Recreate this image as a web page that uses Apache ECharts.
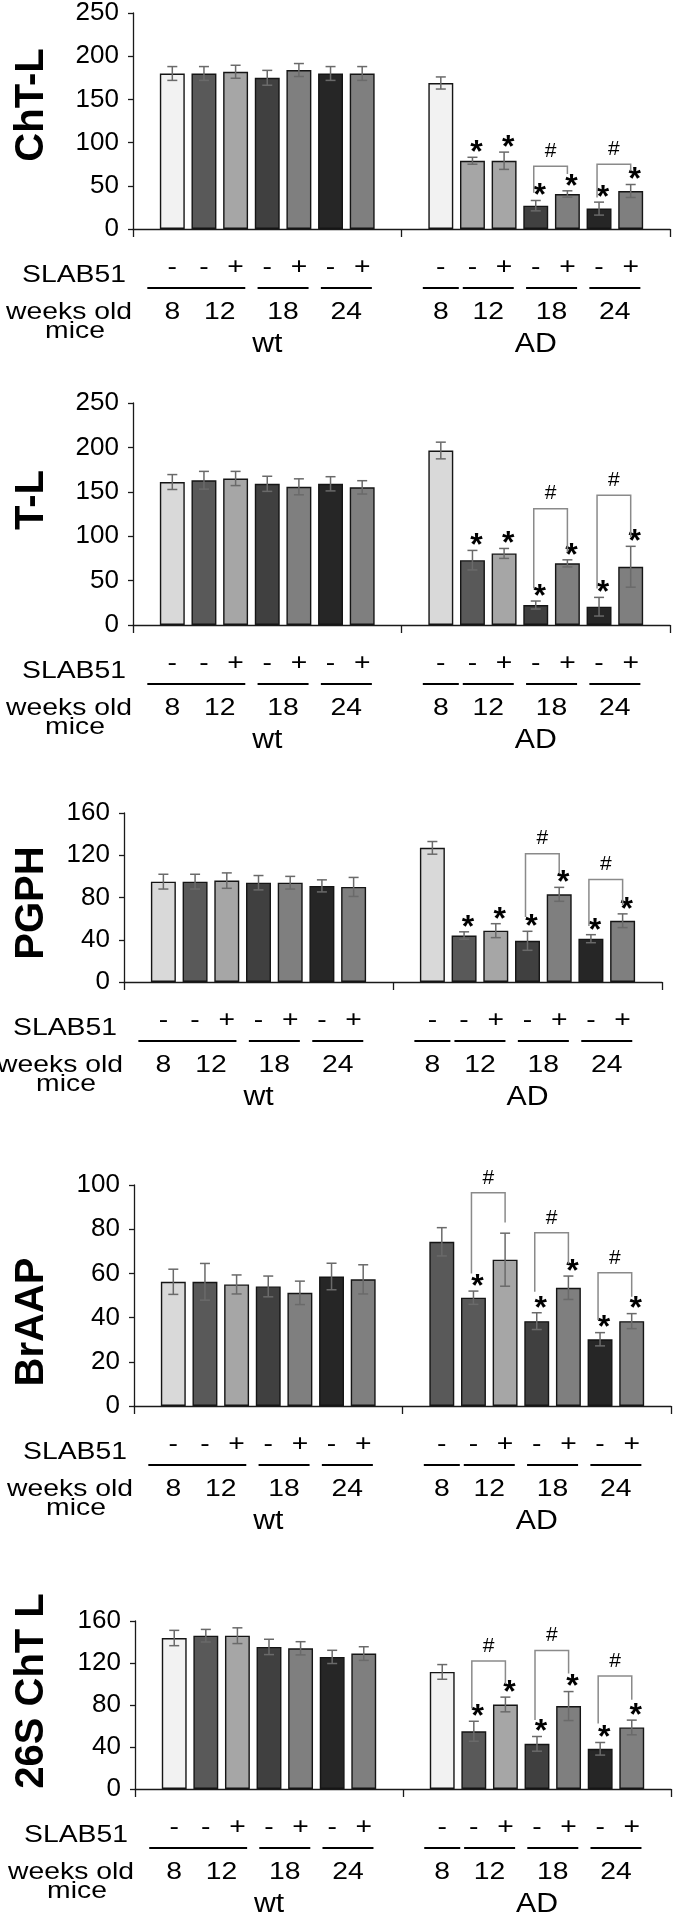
<!DOCTYPE html>
<html><head><meta charset="utf-8">
<script src="https://cdn.jsdelivr.net/npm/echarts@6/dist/echarts.min.js"></script>
<style>html,body{margin:0;padding:0;background:#fff}#c{width:675px;height:1922px}</style>
</head><body><div id="c"></div><script>
// ---------- data ----------
const categories = ['wt', 'AD'];
const barLabels = ['8 -', '12 -', '12 +', '18 -', '18 +', '24 -', '24 +'];
const slabSigns = ['-', '-', '+', '-', '+', '-', '+'];
const weekLabels = ['8', '12', '18', '24'];
const panelTitles = ['ChT-L', 'T-L', 'PGPH', 'BrAAP', '26S ChT L'];
const yMax = [250, 250, 160, 100, 160];
const yStep = [50, 50, 40, 20, 40];

// ChT-L
const chtlWt = [180, 180, 182, 175, 184, 180, 180];
const chtlWtErr = [8, 8, 7.5, 8.6, 7.5, 8, 8];
const chtlAD = [169, 79, 79, 27, 40.5, 23.6, 44];
const chtlADErr = [7, 4, 10, 6, 3.7, 7.5, 7.5];
const chtlStars = [1, 2, 3, 4, 5, 6];
const chtlBrackets = [[3, 4, 42, 72.6, 63.6], [5, 6, 36.6, 74.8, 67.4]];
// T-L
const tlWt = [161, 163, 165, 159, 155.6, 159, 155];
const tlWtErr = [8.4, 10, 8, 8.5, 9, 8, 7.5];
const tlAD = [196.5, 73, 80.6, 22.5, 69.4, 20.6, 65.6];
const tlADErr = [9.4, 11, 5.6, 4.5, 4, 10.5, 23];
const tlStars = [1, 2, 3, 4, 5, 6];
const tlBrackets = [[3, 4, 41, 131, 82], [5, 6, 41, 146, 99]];
// PGPH
const pgphWt = [95, 95, 96, 94, 94, 91, 90];
const pgphWtErr = [7, 7, 7.3, 6.8, 6, 5.7, 9];
const pgphAD = [127, 44, 48.6, 39, 83, 41, 58];
const pgphADErr = [6, 3.5, 6.6, 9, 6.6, 3.8, 6.5];
const pgphStars = [1, 2, 3, 4, 5, 6];
const pgphBrackets = [[3, 4, 61.5, 121.5, 103], [5, 6, 53, 97, 73]];
// BrAAP
const braapWt = [56.2, 56.2, 55, 54.1, 51.2, 58.6, 57.3];
const braapWtErr = [5.7, 8.3, 4.3, 4.7, 5.3, 6, 6.6];
const braapAD = [74.3, 49, 66.2, 38.4, 53.5, 30.2, 38.4];
const braapADErr = [6.4, 3, 12, 3.8, 5.3, 3, 3.4];
const braapStars = [1, 3, 4, 5, 6];
const braapBrackets = [[1, 2, 60, 96.5, 83], [3, 4, 51.7, 78.4, 64.4], [5, 6, 38.9, 60.3, 49.4]];
// 26S ChT L
const s26Wt = [143.8, 146, 146, 135.3, 134, 125.8, 129];
const s26WtErr = [7.3, 6, 7.5, 7.3, 6.3, 6.3, 6.5];
const s26AD = [111.5, 55, 80.5, 43, 79, 38.3, 58.6];
const s26ADErr = [7, 9.5, 7, 7, 13.8, 6, 7];
const s26Stars = [1, 2, 3, 4, 5, 6];
const s26Brackets = [[1, 2, 76.7, 122, 100], [3, 4, 65.6, 132, 110], [5, 6, 62.4, 107.7, 85]];

// ---------- styles / layout ----------
const FONT = '"Liberation Sans", Arial, Helvetica, sans-serif';
const CAT_GAP = 0.20, BAR_GAP = 0.27;
const grids = [
  {left: 133, top: 7, width: 537, height: 222},
  {left: 133, top: 403, width: 537, height: 222},
  {left: 124, top: 813, width: 538, height: 169},
  {left: 134, top: 1185, width: 537, height: 221},
  {left: 135, top: 1621, width: 536, height: 168}
];
const titleCenterY = [105, 500, 903, 1322, 1691];
const G = ['#595959', '#a6a6a6', '#404040', '#7f7f7f', '#262626', '#7f7f7f'];
const wtColors = [
  ['#f2f2f2'].concat(G), ['#d9d9d9'].concat(G), ['#d9d9d9'].concat(G),
  ['#d9d9d9'].concat(G), ['#f2f2f2'].concat(G)
];
const adColors = [
  ['#f2f2f2', '#a6a6a6', '#a6a6a6', '#404040', '#7f7f7f', '#262626', '#7f7f7f'],
  ['#d9d9d9'].concat(G), ['#d9d9d9'].concat(G),
  ['#595959'].concat(G), ['#f2f2f2'].concat(G)
];

const panels = [
  {wt: chtlWt, wtErr: chtlWtErr, ad: chtlAD, adErr: chtlADErr, stars: chtlStars, brackets: chtlBrackets},
  {wt: tlWt, wtErr: tlWtErr, ad: tlAD, adErr: tlADErr, stars: tlStars, brackets: tlBrackets},
  {wt: pgphWt, wtErr: pgphWtErr, ad: pgphAD, adErr: pgphADErr, stars: pgphStars, brackets: pgphBrackets},
  {wt: braapWt, wtErr: braapWtErr, ad: braapAD, adErr: braapADErr, stars: braapStars, brackets: braapBrackets},
  {wt: s26Wt, wtErr: s26WtErr, ad: s26AD, adErr: s26ADErr, stars: s26Stars, brackets: s26Brackets}
];

function offsetInBand(band, idx) {
  const avail = band * (1 - CAT_GAP);
  const bw = avail / (7 + 6 * BAR_GAP);
  return -avail / 2 + bw / 2 + idx * bw * (1 + BAR_GAP);
}
function barCenter(api, cat, idx) {
  const c = api.coord([cat, 0]);
  const band = api.size([1, 0])[0];
  return c[0] + offsetInBand(band, idx);
}

const chart = echarts.init(document.getElementById('c'), null, {renderer: 'canvas', width: 675, height: 1922});

const xAxes = [], yAxes = [], series = [];
panels.forEach((p, k) => {
  xAxes.push({
    type: 'category', gridIndex: k, data: categories,
    axisLine: {lineStyle: {color: '#1a1a1a', width: 1.3}},
    axisTick: {show: true, length: 8, lineStyle: {color: '#1a1a1a', width: 1.3}},
    axisLabel: {show: false}, splitLine: {show: false}
  });
  yAxes.push({
    type: 'value', gridIndex: k, min: 0, max: yMax[k], interval: yStep[k],
    axisLine: {show: true, lineStyle: {color: '#1a1a1a', width: 1.3}},
    axisTick: {show: true, length: 5, lineStyle: {color: '#1a1a1a', width: 1.3}},
    axisLabel: {fontFamily: FONT, fontSize: 26, color: '#000', margin: 14},
    splitLine: {show: false}
  });
  for (let i = 0; i < 7; i++) {
    series.push({
      type: 'bar', name: barLabels[i], xAxisIndex: k, yAxisIndex: k,
      barGap: (BAR_GAP * 100) + '%', barCategoryGap: (CAT_GAP * 100) + '%',
      itemStyle: {borderColor: '#151515', borderWidth: 1.4},
      data: [
        {value: p.wt[i], itemStyle: {color: wtColors[k][i]}},
        {value: p.ad[i], itemStyle: {color: adColors[k][i]}}
      ],
      z: 2, silent: true
    });
  }
  const errData = [];
  for (let i = 0; i < 7; i++) {
    errData.push([0, i, p.wt[i], p.wtErr[i]]);
    errData.push([1, i, p.ad[i], p.adErr[i]]);
  }
  series.push({
    type: 'custom', xAxisIndex: k, yAxisIndex: k, z: 5, silent: true,
    encode: {x: 0, y: 2}, data: errData,
    renderItem: (params, api) => {
      const cat = api.value(0), idx = api.value(1), m = api.value(2), e = api.value(3);
      const x = barCenter(api, cat, idx);
      const yT = api.coord([cat, m + e])[1], yB = api.coord([cat, m - e])[1];
      const st = {stroke: '#6a6a6a', lineWidth: 1.5};
      return {type: 'group', children: [
        {type: 'line', shape: {x1: x, y1: yT, x2: x, y2: yB}, style: st},
        {type: 'line', shape: {x1: x - 5, y1: yT, x2: x + 5, y2: yT}, style: st},
        {type: 'line', shape: {x1: x - 5, y1: yB, x2: x + 5, y2: yB}, style: st}
      ]};
    }
  });
  // significance stars (vs wt)
  series.push({
    type: 'custom', xAxisIndex: k, yAxisIndex: k, z: 6, silent: true,
    encode: {x: 0, y: 2},
    data: p.stars.map(i => [1, i, p.ad[i] + p.adErr[i]]),
    renderItem: (params, api) => {
      const idx = api.value(1);
      const x = barCenter(api, 1, idx) + 4;
      const y = api.coord([1, api.value(2)])[1];
      return {type: 'text', style: {text: '*', x: x, y: y - 4, font: 'bold 32px ' + FONT, fill: '#000', align: 'center', verticalAlign: 'middle'}};
    }
  });
  // brackets (#)
  series.push({
    type: 'custom', xAxisIndex: k, yAxisIndex: k, z: 6, silent: true,
    encode: {x: 0, y: 4},
    data: p.brackets.map(b => [1, b[0], b[1], b[2], b[3], b[4]]),
    renderItem: (params, api) => {
      const xl = barCenter(api, 1, api.value(1)) - 2;
      const xr = barCenter(api, 1, api.value(2));
      const yl = api.coord([1, api.value(3)])[1];
      const yt = api.coord([1, api.value(4)])[1];
      const yr = api.coord([1, api.value(5)])[1];
      return {type: 'group', children: [
        {type: 'polyline', shape: {points: [[xl, yl], [xl, yt], [xr, yt], [xr, yr]]}, style: {stroke: '#8a8a8a', lineWidth: 1.5, fill: null}},
        {type: 'text', style: {text: '#', x: (xl + xr) / 2, y: yt - 15, font: '21px ' + FONT, fill: '#000', align: 'center', verticalAlign: 'middle'}}
      ]};
    }
  });
});

chart.setOption({
  animation: false,
  backgroundColor: '#fff',
  grid: grids.map(g => Object.assign({containLabel: false}, g)),
  xAxis: xAxes, yAxis: yAxes, series: series
});

// ---------- table under each panel ----------
const graphics = [];
const TF = '24px ' + FONT;
function txt(text, x, y, align, font, sx) {
  graphics.push({type: 'text', silent: true, x: x, y: y, scaleX: sx || 1.18,
    style: {text: text, x: 0, y: 0, font: font || TF, fill: '#000', align: align || 'center', verticalAlign: 'middle'}});
}
panels.forEach((p, k) => {
  const g = grids[k];
  const c0 = chart.convertToPixel({gridIndex: k}, [0, 0]);
  const c1 = chart.convertToPixel({gridIndex: k}, [1, 0]);
  const band = c1[0] - c0[0];
  const y0 = c0[1];
  // y-axis title
  graphics.push({type: 'text', silent: true, x: 32, y: titleCenterY[k], rotation: Math.PI / 2,
    style: {text: panelTitles[k], x: 0, y: 0, font: 'bold 40px ' + FONT, fill: '#000', align: 'center', verticalAlign: 'middle'}});
  txt('SLAB51', g.left - 7, y0 + 46, 'right');
  txt('weeks old', g.left - 64, y0 + 83);
  txt('mice', g.left - 58, y0 + 102);
  [c0[0], c1[0]].forEach((cx, cat) => {
    const bx = i => cx + offsetInBand(band, i);
    for (let i = 0; i < 7; i++) txt(slabSigns[i], bx(i), y0 + 38);
    const firstW = cat === 0 ? 50 : 36;
    const lines = [[bx(0), firstW], [(bx(1) + bx(2)) / 2, 51], [(bx(3) + bx(4)) / 2, 51], [(bx(5) + bx(6)) / 2, 51]];
    lines.forEach((l, j) => {
      graphics.push({type: 'line', silent: true, shape: {x1: l[0] - l[1] / 2, y1: y0 + 59, x2: l[0] + l[1] / 2, y2: y0 + 59}, style: {stroke: '#000', lineWidth: 2}});
      txt(weekLabels[j], l[0], y0 + 83);
    });
    txt(categories[cat], cx, y0 + 116, 'center', '27px ' + FONT, 1.12);
  });
});
chart.setOption({graphic: {elements: graphics}});
</script></body></html>
